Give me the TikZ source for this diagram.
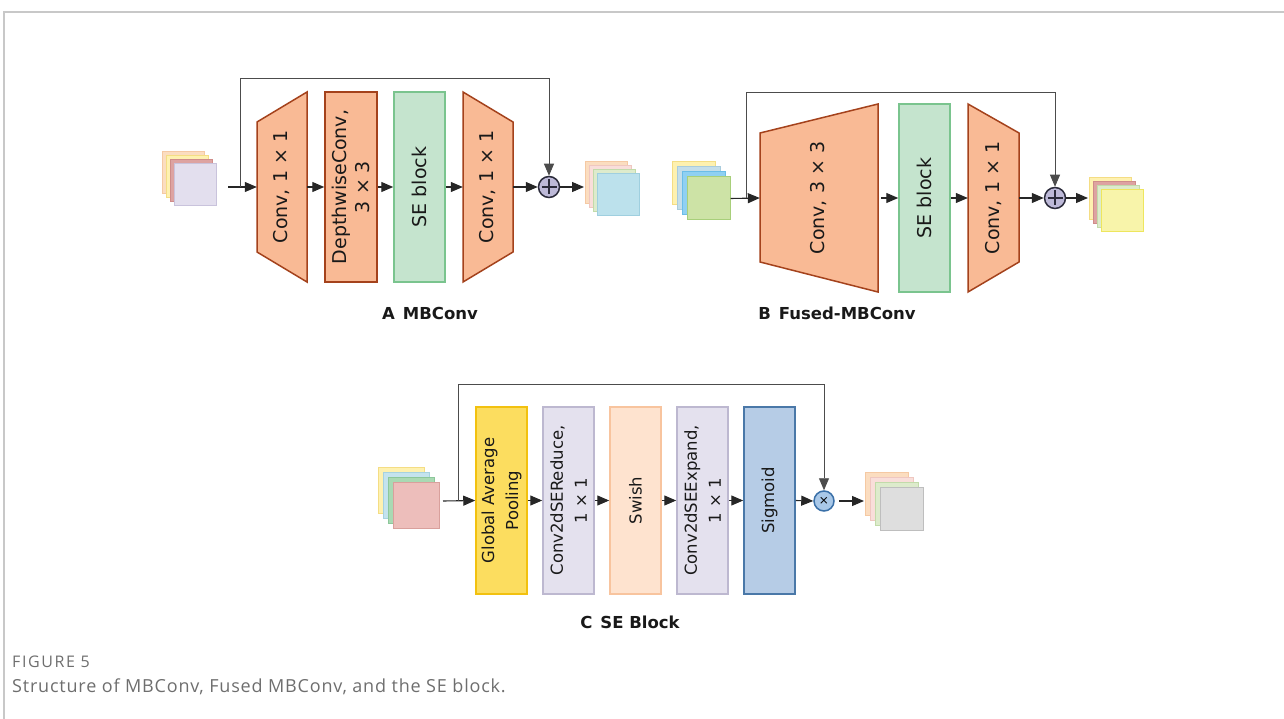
\documentclass[tikz,border=0pt]{standalone}
\usepackage{fontspec}
\setmainfont{DejaVu Sans}
\newfontfamily\capfont[LetterSpace=4.5]{Open Sans}
\newfontfamily\figfont[LetterSpace=10]{Open Sans}
\usetikzlibrary{arrows.meta}
\definecolor{orfill}{HTML}{F9BA95}
\definecolor{ordraw}{HTML}{A4421C}
\definecolor{sefill}{HTML}{C5E4CE}
\definecolor{sedraw}{HTML}{7AC48E}
\definecolor{gapfill}{HTML}{FCDD5F}
\definecolor{gapdraw}{HTML}{F2C10F}
\definecolor{redfill}{HTML}{E4E1EE}
\definecolor{reddraw}{HTML}{BDB8D0}
\definecolor{swfill}{HTML}{FEE3CF}
\definecolor{swdraw}{HTML}{F8C49E}
\definecolor{sigfill}{HTML}{B6CCE6}
\definecolor{sigdraw}{HTML}{4A78A8}
\definecolor{plusfill}{HTML}{BDB9D8}
\definecolor{plusdraw}{HTML}{2B2B3B}
\definecolor{timesfill}{HTML}{A9C8E8}
\definecolor{timesdraw}{HTML}{3A70A8}
\definecolor{framecol}{HTML}{C8C8C8}
\definecolor{capcol}{HTML}{6E6E6E}
% stack colours
\definecolor{pchF}{HTML}{FBDDC0}\definecolor{pchD}{HTML}{F5C9A3}
\definecolor{ylwF}{HTML}{FEF1B0}\definecolor{ylwD}{HTML}{F4DD84}
\definecolor{rosF}{HTML}{DDA3A1}\definecolor{rosD}{HTML}{CF8C8A}
\definecolor{lavF}{HTML}{E3DFEE}\definecolor{lavD}{HTML}{C9C3DC}
\definecolor{pnkF}{HTML}{F9DEDA}\definecolor{pnkD}{HTML}{EFC7C0}
\definecolor{lgrF}{HTML}{DDEBCC}\definecolor{lgrD}{HTML}{C2DBAA}
\definecolor{lblF}{HTML}{BCE1EC}\definecolor{lblD}{HTML}{9FCFDF}
\definecolor{bgrF}{HTML}{C4DEEA}\definecolor{bgrD}{HTML}{A9CCDD}
\definecolor{bluF}{HTML}{8FD0F2}\definecolor{bluD}{HTML}{6BBDE8}
\definecolor{grnF}{HTML}{CDE3A6}\definecolor{grnD}{HTML}{A8CF7A}
\definecolor{ly2F}{HTML}{F8F4AA}\definecolor{ly2D}{HTML}{EEE65E}
\definecolor{mgrF}{HTML}{A9D9B3}\definecolor{mgrD}{HTML}{8CC79A}
\definecolor{salF}{HTML}{EDBEBB}\definecolor{salD}{HTML}{D9A09C}
\definecolor{gryF}{HTML}{DEDEDE}\definecolor{gryD}{HTML}{BEBEBE}
\definecolor{skyF}{HTML}{C4E3EE}\definecolor{skyD}{HTML}{A6D2E0}
\begin{document}
\begin{tikzpicture}[x=1pt,y=-1pt,
  arr/.style={draw=black!85, line width=1.1pt, -{Triangle[length=12pt,width=10pt]}},
  skiparr/.style={draw=black!70, line width=0.9pt, -{Triangle[length=12pt,width=10pt]}},
  ghost/.style={draw=none, fill=none, inner sep=0pt},
  orshape/.style={fill=orfill, draw=ordraw, line width=1.5pt, line join=miter},
  blk/.style={inner sep=0pt, line width=1.5pt},
  lbl/.style={rotate=90, align=center, inner sep=0pt, text=black!90, font=\fontsize{19}{23}\selectfont},
  lblc/.style={rotate=90, align=center, inner sep=0pt, text=black!90, font=\fontsize{16.5}{24}\selectfont},
  sq/.style={inner sep=0pt, line width=1pt},
  title/.style={font=\bfseries\fontsize{16.5}{20}\selectfont, text=black!90},
  plus/.style={circle, minimum size=21pt, inner sep=0pt, fill=plusfill, draw=plusdraw, line width=1.5pt,
    path picture={\draw[line width=1.4pt, plusdraw] ([yshift=-3pt]path picture bounding box.north) -- ([yshift=3pt]path picture bounding box.south)
      ([xshift=3pt]path picture bounding box.west) -- ([xshift=-3pt]path picture bounding box.east);}},
  times/.style={circle, minimum size=20pt, inner sep=0pt, fill=timesfill, draw=timesdraw, line width=1.5pt, font=\fontsize{12}{12}\selectfont}
]
\useasboundingbox (0,0) rectangle (1284,719);
% frame
\draw[framecol, line width=1.2pt] (4,719) -- (4,12) -- (1284,12);

% ================= A: MBConv =================
\node[sq, minimum size=42pt, fill=pchF, draw=pchD] (ain1) at (183,173) {};
\node[sq, minimum size=42pt, fill=ylwF, draw=ylwD] (ain2) at (187,177) {};
\node[sq, minimum size=42pt, fill=rosF, draw=rosD] (ain3) at (191,181) {};
\node[sq, minimum size=42pt, fill=lavF, draw=lavD] (ain4) at (195,185) {};

\draw[orshape] (257,122) -- (307,92) -- (307,282) -- (257,252) -- cycle;
\node[ghost, minimum width=50pt, minimum height=190pt] (a1) at (282,187) {};
\node[lbl] (a1t) at (a1) {Conv, 1 × 1};

\node[blk, fill=orfill, draw=ordraw, minimum width=52pt, minimum height=190pt] (a2) at (351,187) {};
\node[lbl] (a2t) at (a2) {DepthwiseConv,\\3 × 3};

\node[blk, fill=sefill, draw=sedraw, minimum width=51pt, minimum height=190pt] (a3) at (419.5,187) {};
\node[lbl] (a3t) at (a3) {SE block};

\draw[orshape] (463,92) -- (513,122) -- (513,252) -- (463,282) -- cycle;
\node[ghost, minimum width=50pt, minimum height=190pt] (a4) at (488,187) {};
\node[lbl] (a4t) at (a4) {Conv, 1 × 1};

\node[plus] (aplus) at (549,187) {};

\node[sq, minimum size=42pt, fill=pchF, draw=pchD] (aout1) at (606,183) {};
\node[sq, minimum size=42pt, fill=pnkF, draw=pnkD] (aout2) at (610,187) {};
\node[sq, minimum size=42pt, fill=lgrF, draw=lgrD] (aout3) at (614,191) {};
\node[sq, minimum size=42pt, fill=lblF, draw=lblD] (aout4) at (618,195) {};

\coordinate (ain) at (228,187);
\coordinate (askip) at (240,187);
\coordinate (atop) at (549,78);
\coordinate (aend) at (584,187);
\draw[arr] (ain) -- (a1.west);
\draw[arr] (a1.east) -- (a2.west);
\draw[arr] (a2.east) -- (a3.west);
\draw[arr] (a3.east) -- (a4.west);
\draw[arr] (a4.east) -- (aplus.west);
\draw[arr] (aplus.east) -- (aend);
\draw[skiparr] (askip) |- (atop) -- (aplus.north);

\node[title] (atitle) at (430,313) {A\hspace{8pt}MBConv};

% ================= B: Fused-MBConv =================
\node[sq, minimum size=43pt, fill=ylwF, draw=ylwD] (bin1) at (693.5,183.5) {};
\node[sq, minimum size=43pt, fill=bgrF, draw=bgrD] (bin2) at (698.5,188.5) {};
\node[sq, minimum size=43pt, fill=bluF, draw=bluD] (bin3) at (703.5,193.5) {};
\node[sq, minimum size=43pt, fill=grnF, draw=grnD] (bin4) at (708.5,198.5) {};

\draw[orshape] (760,133) -- (878,104) -- (878,292) -- (760,262) -- cycle;
\node[ghost, minimum width=118pt, minimum height=188pt] (b1) at (819,198) {};
\node[lbl] (b1t) at (b1) {Conv, 3 × 3};

\node[blk, fill=sefill, draw=sedraw, minimum width=51pt, minimum height=188pt] (b2) at (924.5,198) {};
\node[lbl] (b2t) at (b2) {SE block};

\draw[orshape] (968,104) -- (1019,133) -- (1019,262) -- (968,292) -- cycle;
\node[ghost, minimum width=51pt, minimum height=188pt] (b3) at (993.5,198) {};
\node[lbl] (b3t) at (b3) {Conv, 1 × 1};

\node[plus] (bplus) at (1055,198) {};

\node[sq, minimum size=42pt, fill=ylwF, draw=ylwD] (bout1) at (1110,199) {};
\node[sq, minimum size=42pt, fill=rosF, draw=rosD] (bout2) at (1114,203) {};
\node[sq, minimum size=42pt, fill=lgrF, draw=lgrD] (bout3) at (1118,207) {};
\node[sq, minimum size=42pt, fill=ly2F, draw=ly2D] (bout4) at (1122,211) {};

\coordinate (bskip) at (746,198);
\coordinate (btop) at (1055,92);
\coordinate (bend) at (1088,198);
\draw[arr] (bin4.east) -- (b1.west);
\draw[arr] ([xshift=3pt]b1.east) -- (b2.west);
\draw[arr] (b2.east) -- (b3.west);
\draw[arr] (b3.east) -- (bplus.west);
\draw[arr] (bplus.east) -- (bend);
\draw[skiparr] (bskip) |- (btop) -- (bplus.north);

\node[title] (btitle) at (837,313) {B\hspace{8pt}Fused-MBConv};

% ================= C: SE Block =================
\node[sq, minimum size=46pt, fill=ylwF, draw=ylwD] (cin1) at (401,490.5) {};
\node[sq, minimum size=46pt, fill=skyF, draw=skyD] (cin2) at (406,495.5) {};
\node[sq, minimum size=46pt, fill=mgrF, draw=mgrD] (cin3) at (411,500.5) {};
\node[sq, minimum size=46pt, fill=salF, draw=salD] (cin4) at (416,505.5) {};

\node[blk, fill=gapfill, draw=gapdraw, minimum width=51pt, minimum height=187pt] (c1) at (501.5,500.5) {};
\node[lblc] (c1t) at (c1) {Global Average\\Pooling};
\node[blk, fill=redfill, draw=reddraw, minimum width=51pt, minimum height=187pt] (c2) at (568.5,500.5) {};
\node[lblc] (c2t) at (c2) {Conv2dSEReduce,\\1 × 1};
\node[blk, fill=swfill, draw=swdraw, minimum width=51pt, minimum height=187pt] (c3) at (635.5,500.5) {};
\node[lblc] (c3t) at (c3) {Swish};
\node[blk, fill=redfill, draw=reddraw, minimum width=51pt, minimum height=187pt] (c4) at (702.5,500.5) {};
\node[lblc] (c4t) at (c4) {Conv2dSEExpand,\\1 × 1};
\node[blk, fill=sigfill, draw=sigdraw, minimum width=51pt, minimum height=187pt] (c5) at (769.5,500.5) {};
\node[lblc] (c5t) at (c5) {Sigmoid};

\node[times] (ctimes) at (824,501) {×};

\node[sq, minimum size=43pt, fill=pchF, draw=pchD] (cout1) at (886.5,493.5) {};
\node[sq, minimum size=43pt, fill=pnkF, draw=pnkD] (cout2) at (891.5,498.5) {};
\node[sq, minimum size=43pt, fill=lgrF, draw=lgrD] (cout3) at (896.5,503.5) {};
\node[sq, minimum size=43pt, fill=gryF, draw=gryD] (cout4) at (901.5,508.5) {};

\coordinate (cin) at (443,501);
\coordinate (cskip) at (458,501);
\coordinate (ctop) at (824,384);
\coordinate (cstart) at (839,501);
\coordinate (cend) at (864,501);
\draw[arr] (cin) -- (c1.west);
\draw[arr] (c1.east) -- (c2.west);
\draw[arr] (c2.east) -- (c3.west);
\draw[arr] (c3.east) -- (c4.west);
\draw[arr] (c4.east) -- (c5.west);
\draw[arr] (c5.east) -- (ctimes.west);
\draw[arr] (cstart) -- (cend);
\draw[skiparr] (cskip) |- (ctop) -- (ctimes.north);

\node[title] (ctitle) at (630,622) {C\hspace{8pt}SE Block};

% ================= caption =================
\node[anchor=base west, inner sep=0pt, text=capcol, font=\figfont\fontsize{16}{16}\selectfont] (fig) at (12,667) {FIGURE 5};
\node[anchor=base west, inner sep=0pt, text=capcol, font=\capfont\fontsize{18}{19}\selectfont] (cap) at (12,692) {Structure of MBConv, Fused MBConv, and the SE block.};
\end{tikzpicture}
\end{document}
